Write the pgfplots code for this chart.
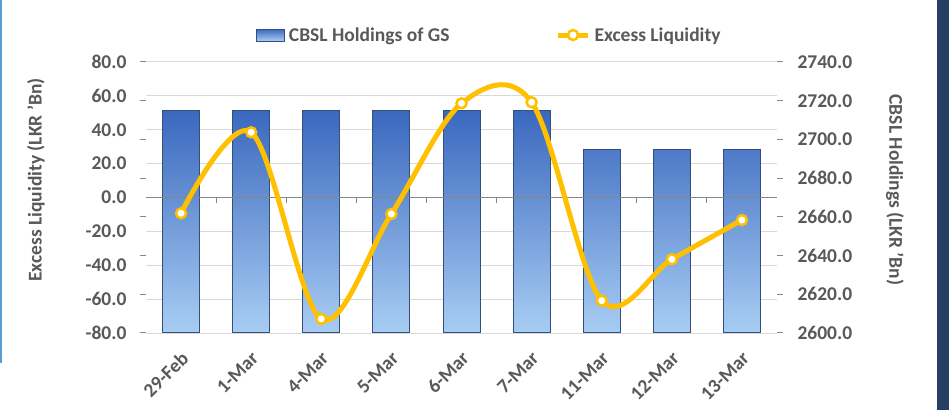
\documentclass[border=0pt]{standalone}
\usepackage{pgfplots}
\pgfplotsset{compat=1.18}
\usepackage{pgfplotstable}
\usepackage{fontspec}
\setmainfont{Carlito}
\definecolor{txt}{HTML}{595959}
\definecolor{gridc}{HTML}{D9D9D9}
\definecolor{axc}{HTML}{868686}
\definecolor{gold}{HTML}{FFC000}
\definecolor{barTop}{HTML}{3A68BE}
\definecolor{barBot}{HTML}{A8CDF3}
\definecolor{barEdge}{HTML}{34507A}
\definecolor{navy}{HTML}{254061}
\definecolor{lblue}{HTML}{5B9BD5}
\newcommand{\chartfont}{\bfseries\fontsize{19.5}{23}\selectfont}
\pgfplotsset{
  goldlegend/.style={legend image code/.code={\draw[mark repeat=2,mark phase=2,##1] plot coordinates {(0pt,0pt) (15pt,0pt) (30pt,0pt)};}},
  barlegend/.style={legend image code/.code={\shade[top color=barTop, bottom color=barBot, draw=barEdge, line width=0.8pt] (0pt,-6pt) rectangle (28pt,6pt);}},
}
\pgfplotstableread{
x h e
0 2715 -9.3
1 2715 38.5
2 2715 -71.7
3 2715 -9.7
4 2715 55.6
5 2715 56.2
6 2695 -60.9
7 2695 -36.5
8 2695 -13.3
}\data
\begin{document}
\begin{tikzpicture}[x=1pt,y=1pt]
\fill[white] (0,0) rectangle (949,412);
\fill[lblue] (0,49) rectangle (1.5,412);
\fill[navy] (937,2) rectangle (949,412);
\pgfplotsset{
  base/.style={
    at={(146pt,79pt)}, anchor=south west, scale only axis,
    width=631pt, height=271pt,
    xmin=-0.5, xmax=8.5,
    every tick label/.append style={text=txt, font=\chartfont},
  }
}
% grid + left labels + x labels
\begin{axis}[base, ymin=-80, ymax=80,
  ytick={-80,-60,...,80},
  yticklabels={-80.0,-60.0,-40.0,-20.0,0.0,20.0,40.0,60.0,80.0},
  xtick={0,...,8},
  xticklabels={29-Feb,1-Mar,4-Mar,5-Mar,6-Mar,7-Mar,11-Mar,12-Mar,13-Mar},
  xticklabel style={inner sep=0pt, xshift=4pt, yshift=-22pt, rotate=45, anchor=east},
  ymajorgrids, grid style={gridc, line width=1pt},
  axis line style={draw=none}, major tick length=0pt,
  yticklabel style={xshift=-16pt},
]
\end{axis}
% bars + right axis
\begin{axis}[base, ymin=0, ymax=140,
  ytick={0,20,...,140},
  yticklabels={2600.0,2620.0,2640.0,2660.0,2680.0,2700.0,2720.0,2740.0},
  xtick=\empty,
  ytick pos=both, yticklabel pos=right, tick align=outside,
  major tick length=6pt,
  x axis line style={draw=none},
  y axis line style={axc, line width=1pt},
  tick style={axc, line width=1pt},
  yticklabel style={xshift=11pt},
]
\addplot[ybar, bar width=37pt, bar shift=0pt, top color=barTop, bottom color=barBot, draw=barEdge, line width=1pt]
  table[x=x, y expr=\thisrow{h}-2600] {\data};
\end{axis}
% line + zero axis + legend
\begin{axis}[base, ymin=-80, ymax=80, clip=false,
  axis line style={draw=none}, xtick=\empty, ytick=\empty,
  legend style={draw=none, fill=none, at={(0.1743,1.0996)}, anchor=west,
    inner sep=0pt, font=\chartfont, text=txt, legend columns=2,
    /tikz/every even column/.append style={column sep=104pt},
    /tikz/every odd column/.append style={column sep=2pt}},
  legend cell align=left,
]
\draw[axc, line width=1pt] (axis cs:-0.5,0) -- (axis cs:8.5,0);
\draw[axc, line width=1pt] (axis cs:0.5,0) -- ++(0pt,-6pt);
\draw[axc, line width=1pt] (axis cs:1.5,0) -- ++(0pt,-6pt);
\draw[axc, line width=1pt] (axis cs:2.5,0) -- ++(0pt,-6pt);
\draw[axc, line width=1pt] (axis cs:3.5,0) -- ++(0pt,-6pt);
\draw[axc, line width=1pt] (axis cs:4.5,0) -- ++(0pt,-6pt);
\draw[axc, line width=1pt] (axis cs:5.5,0) -- ++(0pt,-6pt);
\draw[axc, line width=1pt] (axis cs:6.5,0) -- ++(0pt,-6pt);
\draw[axc, line width=1pt] (axis cs:7.5,0) -- ++(0pt,-6pt);
\addlegendimage{barlegend}
\addlegendentry{CBSL Holdings of GS}
\addplot[gold, line width=5pt, smooth, tension=0.55, mark=*, mark size=5pt,
  mark options={fill=white, draw=gold, line width=2.5pt}, goldlegend]
  table[x=x, y=e] {\data};
\addlegendentry{Excess Liquidity}
\end{axis}
\node[rotate=90, text=txt, font=\chartfont] at (36,232) {Excess Liquidity (LKR 'Bn)};
\node[rotate=-90, text=txt, font=\chartfont] at (895,222) {CBSL Holdings (LKR 'Bn)};
\pgfresetboundingbox
\useasboundingbox (0,0) rectangle (949,412);
\end{tikzpicture}
\end{document}
